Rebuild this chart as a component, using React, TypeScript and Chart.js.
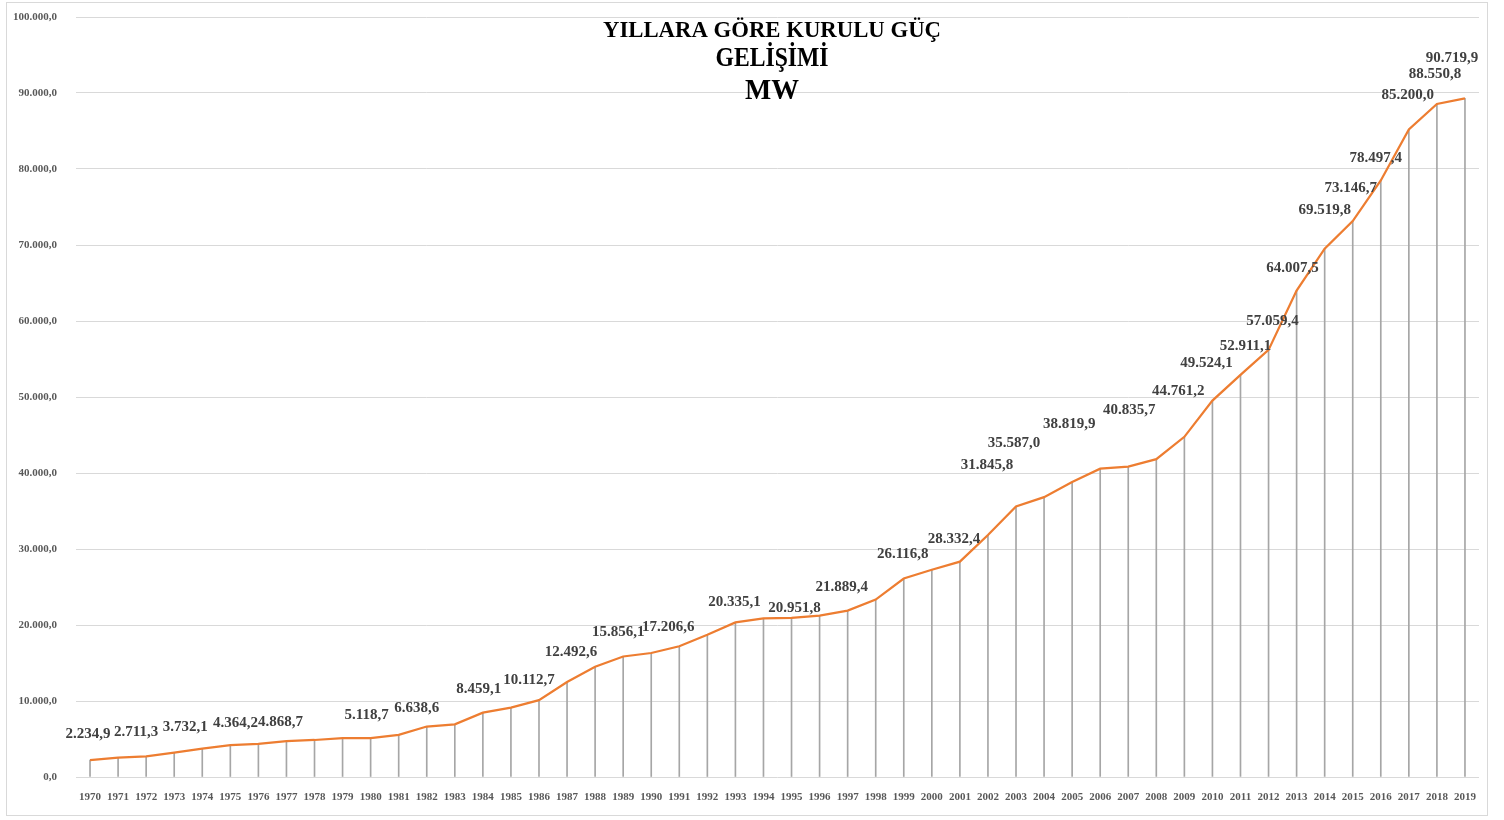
import { useEffect, useRef } from "react";
import { Chart, registerables } from "chart.js";

Chart.register(...registerables);

// ---- data ----
const years = [
  "1970", "1971", "1972", "1973", "1974", "1975", "1976", "1977", "1978", "1979",
  "1980", "1981", "1982", "1983", "1984", "1985", "1986", "1987", "1988", "1989",
  "1990", "1991", "1992", "1993", "1994", "1995", "1996", "1997", "1998", "1999",
  "2000", "2001", "2002", "2003", "2004", "2005", "2006", "2007", "2008", "2009",
  "2010", "2011", "2012", "2013", "2014", "2015", "2016", "2017", "2018", "2019",
];

const capacityMW = [
  2234.9, 2534.6, 2711.3, 3193.6, 3732.1, 4186.6, 4364.2, 4727.1, 4868.7, 5118.7,
  5118.7, 5537.6, 6638.6, 6935.1, 8459.1, 9119.1, 10112.7, 12492.6, 14518.8, 15856.1,
  16315.1, 17206.6, 18713.6, 20335.1, 20857.0, 20951.8, 21246.9, 21889.4, 23351.5, 26116.8,
  27264.1, 28332.4, 31845.8, 35587.0, 36824.0, 38819.9, 40564.8, 40835.7, 41817.2, 44761.2,
  49524.1, 52911.1, 56200.0, 64007.5, 69519.8, 73146.7, 78497.4, 85200.0, 88550.8, 89300.0,
];

const valueLabels = [
  "2.234,9", "", "2.711,3", "", "3.732,1", "", "4.364,2", "", "4.868,7", "",
  "5.118,7", "", "6.638,6", "", "8.459,1", "", "10.112,7", "12.492,6", "", "15.856,1",
  "", "17.206,6", "", "20.335,1", "", "20.951,8", "", "21.889,4", "", "26.116,8",
  "", "28.332,4", "31.845,8", "35.587,0", "", "38.819,9", "", "40.835,7", "", "44.761,2",
  "49.524,1", "52.911,1", "57.059,4", "64.007,5", "69.519,8", "73.146,7", "78.497,4", "85.200,0", "88.550,8", "90.719,9",
];

const titleLines = ["YILLARA GÖRE KURULU GÜÇ", "GELİŞİMİ", "MW"];

const yMin = 0;
const yMax = 100000;
const yStep = 10000;

// ---- helpers ----
function formatTr(n: number): string {
  const fixed = n.toFixed(1);
  const [intPart, dec] = fixed.split(".");
  return intPart.replace(/\B(?=(\d{3})+(?!\d))/g, ".") + "," + dec;
}

const SERIF = "'Liberation Serif', 'Times New Roman', serif";

// label nudges (style): offset of each data label from its point
const labelNudge: Record<string, [number, number]> = {
  "1970": [-2, -26], "1972": [-10, -24], "1974": [-17, -22], "1976": [-23, -21],
  "1978": [-34, -18], "1980": [-4, -23], "1982": [-10, -18], "1984": [-4, -24],
  "1986": [-10, -20], "1987": [4, -30], "1989": [-5, -24], "1991": [-11, -19],
  "1993": [-1, -20], "1995": [3, -10], "1997": [-6, -24], "1999": [-1, -24],
  "2001": [-6, -23], "2002": [-1, -70], "2003": [-2, -63], "2005": [-3, -58],
  "2007": [1, -57], "2009": [-6, -46], "2010": [-6, -37], "2011": [5, -29],
  "2012": [4, -29], "2013": [-4, -22], "2014": [0, -39], "2015": [-2, -33],
  "2016": [-5, -22], "2017": [-1, -34], "2018": [-2, -30], "2019": [-13, -40],
};

const framePlugin = {
  id: "frame",
  beforeDraw(chart: any) {
    const ctx = chart.ctx;
    ctx.save();
    ctx.fillStyle = "#ffffff";
    ctx.fillRect(0, 0, chart.width, chart.height);
    ctx.strokeStyle = "#d9d9d9";
    ctx.lineWidth = 1;
    ctx.strokeRect(6.5, 2.5, 1481, 813);
    ctx.restore();
  },
};

const valueLabelPlugin = {
  id: "valueLabels",
  afterDatasetsDraw(chart: any) {
    const meta = chart.getDatasetMeta(1);
    const ctx = chart.ctx;
    ctx.save();
    ctx.font = `bold 15px ${SERIF}`;
    ctx.fillStyle = "#404040";
    ctx.textAlign = "center";
    ctx.textBaseline = "middle";
    meta.data.forEach((pt: any, i: number) => {
      const text = valueLabels[i];
      if (!text) return;
      const nudge = labelNudge[years[i]] || [0, -24];
      ctx.fillText(text, pt.x + nudge[0], pt.y + nudge[1]);
    });
    ctx.restore();
  },
};

const titlePlugin = {
  id: "overlayTitle",
  afterDraw(chart: any) {
    const ctx = chart.ctx;
    const cx = 772;
    const specs = [
      { size: 24, base: 37, width: 338 },
      { size: 28, base: 65.5, width: 113 },
      { size: 30, base: 98.5, width: 54 },
    ];
    ctx.save();
    ctx.fillStyle = "#000000";
    ctx.textAlign = "center";
    ctx.textBaseline = "alphabetic";
    titleLines.forEach((line, i) => {
      const s = specs[i];
      ctx.font = `bold ${s.size}px ${SERIF}`;
      const w = ctx.measureText(line).width;
      const sx = s.width / w;
      ctx.save();
      ctx.translate(cx, s.base);
      ctx.scale(sx, 1);
      ctx.fillText(line, 0, 0);
      ctx.restore();
    });
    ctx.restore();
  },
};

export default function App() {
  const canvasRef = useRef<HTMLCanvasElement | null>(null);

  useEffect(() => {
    if (!canvasRef.current) return;
    const chart = new Chart(canvasRef.current, {
      type: "bar",
      data: {
        labels: years,
        datasets: [
          {
            type: "bar",
            label: "drop",
            data: capacityMW,
            backgroundColor: "#a6a6a6",
            borderWidth: 0,
            barThickness: 1,
            order: 2,
          },
          {
            type: "line",
            label: "Kurulu Güç (MW)",
            data: capacityMW,
            borderColor: "#ED7D31",
            borderWidth: 2.25,
            pointRadius: 0,
            tension: 0,
            fill: false,
            order: 1,
          },
        ],
      } as any,
      options: {
        animation: false,
        responsive: false,
        maintainAspectRatio: false,
        layout: { padding: { left: 0, right: 25, top: 17, bottom: 13 } },
        plugins: {
          legend: { display: false },
          tooltip: { enabled: false },
          title: { display: false },
        },
        scales: {
          x: {
            type: "category",
            offset: true,
            grid: { display: false, drawTicks: false },
            border: { display: false },
            ticks: {
              color: "#595959",
              font: { family: SERIF, size: 11, weight: "bold" },
              padding: 14,
              maxRotation: 0,
              autoSkip: false,
            },
            afterFit(scale: any) {
              scale.height = 30;
            },
          },
          y: {
            min: yMin,
            max: yMax,
            grid: { color: "#d9d9d9", lineWidth: 1, drawTicks: false },
            border: { display: false },
            ticks: {
              stepSize: yStep,
              color: "#595959",
              font: { family: SERIF, size: 11, weight: "bold" },
              padding: 19,
              callback: (v: any) => formatTr(Number(v)),
            },
            afterFit(scale: any) {
              scale.width = 76;
              scale.paddingTop = 0;
              scale.paddingBottom = 0;
            },
          },
        },
      } as any,
      plugins: [framePlugin, valueLabelPlugin, titlePlugin],
    });
    return () => chart.destroy();
  }, []);

  return (
    <div style={{ position: "absolute", left: 0, top: 0, width: 1504, height: 820 }}>
      <canvas ref={canvasRef} width={1504} height={820} style={{ width: 1504, height: 820, display: "block" }} />
    </div>
  );
}
